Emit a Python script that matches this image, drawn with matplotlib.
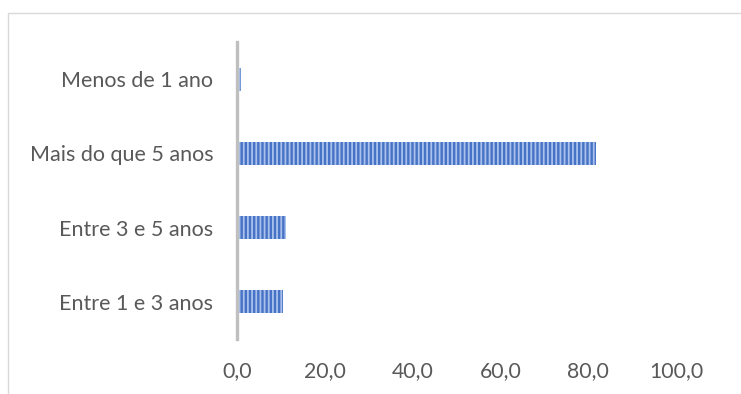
import matplotlib
matplotlib.use("Agg")
import matplotlib.pyplot as plt
from matplotlib.patches import Rectangle

categories = ["Entre 1 e 3 anos", "Entre 3 e 5 anos", "Mais do que 5 anos", "Menos de 1 ano"]
values = [10.5, 11.1, 81.7, 0.9]
xticks = [0, 20, 40, 60, 80, 100]
xtick_labels = ["0,0", "20,0", "40,0", "60,0", "80,0", "100,0"]

plt.rcParams["font.family"] = ["Lato", "DejaVu Sans"]
plt.rcParams["hatch.linewidth"] = 1.3
plt.rcParams["hatch.color"] = "#A9C1EC"

W, H = 741, 394
fig = plt.figure(figsize=(W / 100, H / 100), dpi=100)

# outer chart-area border
fig.patches.append(Rectangle((7.5 / W, -0.1), 1.2, (H - 13.5) / H + 0.1,
                             transform=fig.transFigure, fill=False,
                             edgecolor="#D9D9D9", linewidth=1.0))

ax = fig.add_axes([237 / W, 55 / H, 439 / W, 297 / H])
ypos = list(range(len(categories)))
ax.barh(ypos, values, height=0.31, color="#4673C5", hatch="||||",
        edgecolor="#A9C1EC", linewidth=0.0, zorder=2)

ax.set_xlim(0, 100)
ax.set_ylim(-0.5, len(categories) - 0.5)
ax.set_yticks(ypos)
ax.set_yticklabels(categories)
ax.set_xticks(xticks)
ax.set_xticklabels(xtick_labels)

for s in ["top", "right", "bottom"]:
    ax.spines[s].set_visible(False)
ax.spines["left"].set_color("#BFBFBF")
ax.spines["left"].set_linewidth(2.4)
ax.spines["left"].set_zorder(3)

ax.tick_params(axis="y", length=0, pad=17, labelsize=15.5, labelcolor="#595959")
ax.tick_params(axis="x", length=0, pad=16, labelsize=15.3, labelcolor="#595959")

fig.savefig("out.png", dpi=100)
